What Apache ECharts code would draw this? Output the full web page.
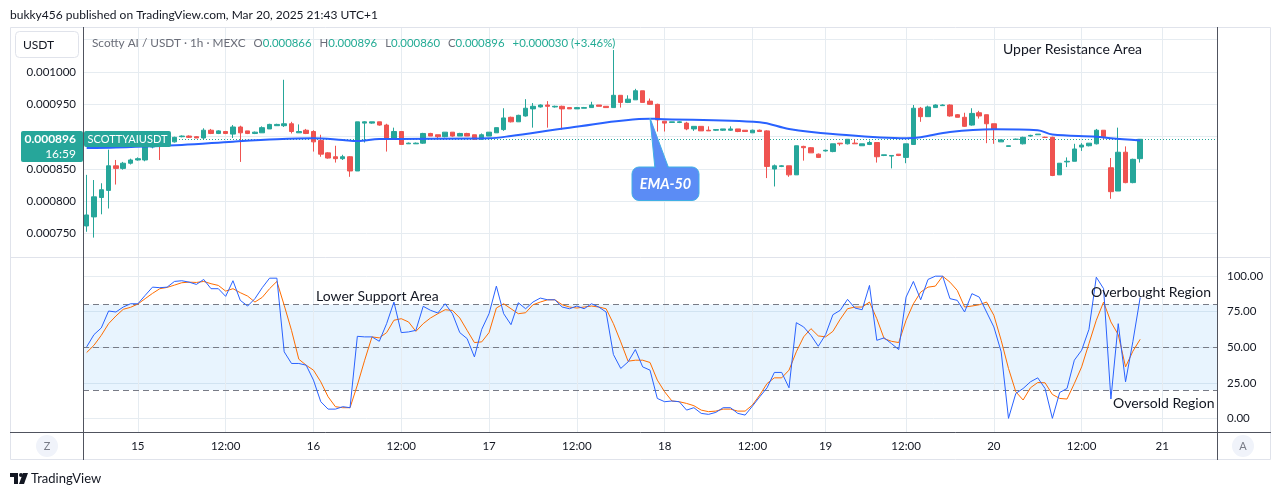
<!DOCTYPE html>
<html>
<head>
<meta charset="utf-8">
<script src="https://cdn.jsdelivr.net/npm/echarts@6/dist/echarts.min.js"></script>
<style>
  html, body { margin: 0; padding: 0; background: #fff; }
  #chart { width: 1281px; height: 496px; }
</style>
</head>
<body>
<div id="chart"></div>
<script>
// prices are in millionths of USDT (896 -> 0.000896)
// one candle per hour: [open, high, low, close]
const candles = [
  [762, 841, 753, 779], [776, 833, 744, 807], [806, 828, 780, 818], [817, 880, 789, 855],
  [855, 864, 826, 851], [851, 861, 849, 859], [859, 866, 857, 864], [864, 868, 863, 866],
  [864, 885, 862, 884], [884, 888, 882, 886], [890, 893, 864, 885], [886, 894, 885, 892],
  [892, 900, 891, 899], [900, 902, 899, 901], [901, 902, 898, 899], [900, 901, 898, 898],
  [898, 913, 895, 910], [910, 912, 904, 905], [905, 910, 904, 909], [908, 909, 904, 905],
  [904, 918, 898, 915], [915, 917, 861, 906], [909, 909, 904, 905], [905, 908, 904, 907],
  [906, 916, 906, 914], [912, 920, 912, 919], [917, 920, 917, 919], [917, 988, 915, 920],
  [920, 923, 905, 908], [906, 919, 906, 908], [910, 912, 904, 905], [908, 910, 877, 892],
  [894, 903, 869, 873], [875, 876, 866, 867], [869, 886, 860, 866], [866, 872, 864, 869],
  [869, 870, 838, 847], [847, 923, 847, 923], [921, 924, 891, 923], [921, 923, 920, 923],
  [923, 923, 917, 918], [918, 920, 877, 896], [896, 914, 895, 908], [908, 908, 888, 888],
  [889, 891, 889, 890], [889, 891, 889, 890], [890, 906, 889, 905], [905, 906, 901, 901],
  [903, 903, 898, 900], [900, 907, 899, 907], [907, 907, 900, 901], [901, 906, 901, 905],
  [905, 906, 901, 901], [903, 903, 895, 896], [896, 905, 895, 903], [901, 907, 901, 907],
  [906, 914, 906, 914], [911, 944, 909, 929], [930, 931, 922, 923], [923, 934, 923, 933],
  [932, 958, 931, 944], [943, 952, 914, 947], [946, 950, 945, 949], [949, 955, 914, 947],
  [946, 948, 945, 947], [947, 948, 911, 943], [945, 945, 943, 943], [943, 946, 943, 945],
  [944, 946, 944, 945], [945, 954, 945, 949], [949, 949, 947, 947], [947, 947, 945, 945],
  [945, 1034, 945, 964], [964, 964, 945, 953], [953, 964, 952, 958], [957, 974, 957, 971],
  [971, 971, 953, 953], [955, 959, 949, 950], [950, 951, 908, 926], [924, 924, 908, 921],
  [922, 923, 922, 923], [922, 924, 921, 923], [921, 923, 910, 912], [912, 916, 909, 916],
  [916, 916, 909, 909], [910, 916, 909, 909], [910, 911, 909, 911], [910, 912, 909, 912],
  [910, 916, 909, 912], [912, 912, 907, 908], [910, 910, 908, 908], [906, 911, 906, 910],
  [910, 911, 908, 908], [909, 910, 836, 854], [850, 857, 823, 855], [854, 856, 853, 855],
  [855, 855, 838, 841], [841, 886, 841, 886], [885, 886, 863, 883], [883, 884, 875, 875],
  [873, 874, 867, 868], [878, 880, 877, 879], [877, 889, 876, 889], [890, 890, 886, 889],
  [889, 896, 888, 896], [890, 896, 889, 889], [886, 889, 886, 889], [888, 894, 887, 891],
  [891, 891, 860, 869], [871, 872, 870, 872], [870, 871, 851, 871], [873, 873, 870, 871],
  [868, 889, 859, 889], [888, 949, 888, 944], [944, 946, 923, 931], [931, 948, 931, 946],
  [945, 950, 945, 949], [948, 950, 948, 949], [949, 950, 931, 932], [934, 935, 930, 930],
  [930, 937, 915, 916], [918, 944, 917, 936], [937, 940, 928, 932], [934, 934, 890, 920],
  [920, 920, 889, 911], [892, 896, 892, 895], [885, 886, 885, 886], [896, 897, 896, 896],
  [889, 900, 888, 899], [901, 903, 900, 902], [903, 904, 903, 904], [899, 900, 899, 899],
  [899, 900, 839, 840], [841, 859, 841, 859], [861, 868, 853, 862], [862, 889, 862, 881],
  [884, 890, 878, 887], [886, 890, 885, 890], [889, 912, 888, 910], [910, 910, 896, 900],
  [852, 867, 804, 815], [816, 914, 816, 876], [876, 885, 828, 829], [829, 866, 828, 865],
  [866, 896, 860, 896]
];

// EMA-50 read at a few bars: [bar index, value]
const ema50 = [
  [0, 882.5], [4, 883.3], [13, 887.2], [20, 892.3], [26, 896], [31, 897.5], [35, 894.9],
  [37, 893.4], [40, 896.4], [55, 897.5], [58, 901.1], [66, 913.9], [77, 927.8], [78, 927.4],
  [92, 922.3], [96, 911.9], [102, 904.2], [112, 897.5], [114, 899], [118, 907.3],
  [124, 911.4], [130, 909.9], [132, 903.4], [138, 900], [140, 897.5], [144, 894.1]
];

// stochastic %K and %D, one value per bar
const stochK = [
  50.3, 58.9, 63.6, 75.5, 74.8, 78.3, 80.6, 80.6, 86.5, 92.3, 91.9, 92.3, 96.3, 96.8, 95.8,
  94.2, 97.7, 91.2, 91.2, 85.8, 96.8, 83.0, 79.0, 84.2, 91.9, 98.6, 98.6, 46.8, 38.6, 38.6,
  37.4, 26.9, 11.7, 6.5, 6.5, 8.2, 7.5, 57.7, 57.3, 57.3, 54.2, 66.6, 81.8, 60.3, 60.8,
  61.9, 78.8, 76.0, 74.1, 80.6, 73.6, 60.3, 56.1, 43.2, 62.6, 73.6, 93.0, 73.6, 65.9, 81.3,
  77.1, 81.8, 84.6, 83.4, 83.4, 78.3, 77.1, 79.0, 77.1, 80.6, 78.3, 74.8, 44.9, 35.1, 39.7,
  48.4, 36.2, 33.9, 14.0, 11.7, 12.2, 11.7, 5.8, 7.5, 3.5, 2.8, 4.2, 7.5, 7.5, 3.5,
  2.3, 8.6, 15.2, 21.5, 32.3, 32.3, 21.5, 67.3, 64.3, 58.4, 50.7, 58.9, 72.9, 76.0, 83.7,
  77.6, 76.4, 93.5, 54.9, 56.6, 52.6, 48.4, 85.3, 96.3, 83.4, 97.7, 100, 100, 84.2, 83.0,
  74.8, 87.7, 85.3, 74.8, 64.3, 46.8, 0, 17.5, 21.0, 25.7, 28.5, 21.0, 0, 18.2, 21.0,
  40.9, 47.9, 62.6, 99.3, 91.2, 13.6, 66.6, 25.7, 54.0, 85.0
];
const stochD = [
  46.3, 51.4, 58.4, 66.6, 72.0, 76.7, 78.1, 80.4, 84.2, 87.9, 91.2, 92.1, 93.7, 95.4, 95.8,
  95.6, 96.3, 94.7, 93.5, 89.5, 91.2, 88.4, 86.0, 81.8, 85.1, 91.2, 96.3, 79.5, 61.9, 41.6,
  37.4, 33.9, 25.7, 15.2, 8.2, 7.5, 7.5, 23.4, 40.9, 57.3, 56.6, 60.3, 69.0, 70.1, 67.8,
  61.2, 66.6, 70.6, 73.6, 76.4, 75.9, 70.6, 61.9, 53.3, 53.8, 60.3, 77.6, 80.6, 77.1, 73.6,
  74.3, 79.9, 81.8, 83.4, 83.4, 79.9, 78.3, 77.6, 78.3, 79.0, 78.3, 77.1, 66.6, 53.8, 40.2,
  40.9, 40.9, 39.3, 26.9, 18.7, 12.2, 11.7, 10.5, 8.9, 5.8, 4.7, 5.1, 6.5, 6.5, 5.1,
  5.1, 9.4, 16.4, 24.5, 28.5, 28.5, 33.9, 46.8, 57.3, 63.1, 58.0, 57.3, 61.2, 69.7, 77.1,
  78.3, 78.3, 81.8, 70.1, 56.1, 54.2, 53.3, 69.0, 80.6, 88.8, 92.3, 93.0, 100, 95.8, 90.0,
  78.3, 79.0, 79.9, 81.8, 72.5, 54.9, 35.1, 18.7, 12.9, 21.5, 25.2, 25.0, 16.8, 14.0, 13.6,
  24.5, 36.2, 52.6, 69.0, 81.8, 67.8, 58.9, 36.2, 47.2, 55.6
];

// time labels at bar indexes (Mar 15 .. Mar 21)
const timeLabels = {
  7: '15', 19: '12:00', 31: '16', 43: '12:00', 55: '17', 67: '12:00', 79: '18',
  91: '12:00', 101: '19', 112: '12:00', 124: '20', 136: '12:00', 147: '21'
};
const priceTicks = [750, 800, 850, 900, 950, 1000, 1050];
const priceLabels = [750, 800, 850, 900, 950, 1000];
const stochTicks = [0, 25, 50, 75, 100];
const stochLevels = [20, 50, 80];

const BARS = 155; // visible slots, the last ones are empty
const cats = Array.from({ length: BARS }, (_, i) => String(i));
const gridIdx = Object.keys(timeLabels).map(Number);

const TXT = '#131722';
const GRID = '#e6ecf1';
const UP = '#26a69a';
const DOWN = '#ef5350';
const FONT = 'Lato, "Noto Sans", sans-serif';

const last = candles[candles.length - 1];
const fmt = v => (v / 1e6).toFixed(6);

const chart = echarts.init(document.getElementById('chart'), null, { renderer: 'canvas' });

const vGrid = {
  silent: true, symbol: 'none', z: 1, animation: false,
  label: { show: false },
  lineStyle: { color: GRID, type: 'solid', width: 1 },
  data: gridIdx.map(i => ({ xAxis: i }))
};

const option = {
  animation: false,
  backgroundColor: '#fff',
  textStyle: { fontFamily: FONT },
  grid: [
    { left: 83, right: 64, top: 27, height: 230 },
    { left: 83, right: 64, top: 257.7, height: 174.3 }
  ],
  xAxis: [
    {
      type: 'category', gridIndex: 0, data: cats, boundaryGap: true,
      axisLine: { show: false }, axisTick: { show: false },
      axisLabel: { show: false }, splitLine: { show: false }
    },
    {
      type: 'category', gridIndex: 1, data: cats, boundaryGap: true,
      axisLine: { show: false }, axisTick: { show: false },
      splitLine: { show: false },
      axisLabel: {
        color: TXT, fontSize: 11.5, margin: 8, fontFamily: FONT,
        interval: i => timeLabels[i] !== undefined,
        formatter: v => timeLabels[v] || ''
      }
    }
  ],
  yAxis: [
    {
      type: 'value', gridIndex: 0, position: 'left', min: 714, max: 1069.6,
      axisLine: { show: false },
      axisTick: { show: false, customValues: priceTicks },
      axisLabel: {
        customValues: priceLabels, formatter: fmt,
        color: TXT, fontSize: 11.5, margin: 7, fontFamily: FONT
      },
      splitLine: { show: true, lineStyle: { color: GRID } }
    },
    {
      type: 'value', gridIndex: 1, position: 'right', min: -9.6, max: 113,
      axisLine: { show: false },
      axisTick: { show: false, customValues: stochTicks },
      axisLabel: {
        customValues: stochTicks, formatter: v => v.toFixed(2),
        color: TXT, fontSize: 11.5, margin: 10, fontFamily: FONT
      },
      splitLine: { show: true, lineStyle: { color: GRID } }
    }
  ],
  series: [
    {
      type: 'candlestick', name: 'SCOTTYAIUSDT', xAxisIndex: 0, yAxisIndex: 0,
      barWidth: 5, z: 3,
      data: candles.map(c => [c[0], c[3], c[2], c[1]]),
      itemStyle: { color: UP, color0: DOWN, borderColor: UP, borderColor0: DOWN, borderWidth: 1 },
      markLine: {
        silent: true, symbol: 'none', z: 2, animation: false,
        label: { show: false },
        lineStyle: { color: UP, type: [1, 2], width: 1 },
        data: [{ yAxis: last[3] }]
      }
    },
    {
      type: 'line', name: 'EMA-50', xAxisIndex: 0, yAxisIndex: 0, z: 4,
      data: ema50, smooth: 0.35, symbol: 'none',
      lineStyle: { color: '#2962ff', width: 2 },
      markLine: vGrid
    },
    {
      type: 'line', name: '%K', xAxisIndex: 1, yAxisIndex: 1, z: 4,
      data: stochK, symbol: 'none',
      lineStyle: { color: '#2962ff', width: 1 },
      markLine: vGrid,
      markArea: {
        silent: true, z: 1,
        itemStyle: { color: 'rgba(33,150,243,0.1)' },
        data: [[{ yAxis: stochLevels[0] }, { yAxis: stochLevels[2] }]]
      }
    },
    {
      type: 'line', name: '%D', xAxisIndex: 1, yAxisIndex: 1, z: 3,
      data: stochD, symbol: 'none',
      lineStyle: { color: '#ff6d00', width: 1 },
      markLine: {
        silent: true, symbol: 'none', z: 2, animation: false,
        label: { show: false },
        lineStyle: { color: '#787b86', type: [6, 4], width: 1 },
        data: stochLevels.map(v => ({ yAxis: v }))
      }
    }
  ],
  graphic: [
    // frame and separators
    { type: 'rect', z: 50, shape: { x: 10.5, y: 27.5, width: 1260, height: 432 },
      style: { fill: 'none', stroke: '#e0e3eb', lineWidth: 1 } },
    { type: 'line', z: 50, shape: { x1: 10, y1: 257.5, x2: 1271, y2: 257.5 },
      style: { stroke: '#e0e3eb', lineWidth: 1 } },
    { type: 'line', z: 51, shape: { x1: 83.5, y1: 27, x2: 83.5, y2: 460 },
      style: { stroke: '#50535e', lineWidth: 1 } },
    { type: 'line', z: 51, shape: { x1: 1217.5, y1: 27, x2: 1217.5, y2: 460 },
      style: { stroke: '#50535e', lineWidth: 1 } },
    { type: 'line', z: 51, shape: { x1: 10, y1: 432.5, x2: 1271, y2: 432.5 },
      style: { stroke: '#50535e', lineWidth: 1 } },

    // header
    { type: 'text', z: 60, style: { x: 10, y: 15, verticalAlign: 'middle',
      text: 'bukky456 published on TradingView.com, Mar 20, 2025 21:43 UTC+1',
      font: '12px ' + FONT, fill: TXT } },
    { type: 'rect', z: 60, shape: { x: 15.5, y: 31.5, width: 63, height: 26, r: 4 },
      style: { fill: '#fff', stroke: '#e0e3eb', lineWidth: 1 } },
    { type: 'text', z: 61, style: { x: 23, y: 45, verticalAlign: 'middle',
      text: 'USDT', font: '12px ' + FONT, fill: TXT } },
    { type: 'text', z: 60, style: { x: 92, y: 43, verticalAlign: 'middle',
      text: '{g|Scotty AI / USDT · 1h · MEXC}{s| }{l|O}{v|' + fmt(last[0]) + '}{s| }{l|H}{v|' + fmt(last[1]) +
        '}{s| }{l|L}{v|' + fmt(last[2]) + '}{s| }{l|C}{v|' + fmt(last[3]) + '}{s| }{v|+0.000030 (+3.46%)}',
      rich: {
        g: { fill: '#6a6d78', font: '11.8px ' + FONT },
        s: { width: 8, font: '11px ' + FONT },
        l: { fill: '#6a6d78', font: '11.4px ' + FONT },
        v: { fill: '#22ab94', font: '11.4px ' + FONT }
      } } },

    // annotations
    { type: 'text', z: 60, style: { x: 1003, y: 49, verticalAlign: 'middle',
      text: 'Upper Resistance Area', font: '14px ' + FONT, fill: TXT } },
    { type: 'text', z: 60, style: { x: 316, y: 296, verticalAlign: 'middle',
      text: 'Lower Support Area', font: '14px ' + FONT, fill: TXT } },
    { type: 'text', z: 60, style: { x: 1091, y: 292, verticalAlign: 'middle',
      text: 'Overbought Region', font: '14px ' + FONT, fill: TXT } },
    { type: 'text', z: 60, style: { x: 1113, y: 403, verticalAlign: 'middle',
      text: 'Oversold Region', font: '14px ' + FONT, fill: TXT } },

    // EMA-50 callout
    { type: 'polygon', z: 60, shape: { points: [[650, 118], [655, 169], [669, 169]] },
      style: { fill: '#5b8cf5', stroke: '#41b0e6', lineWidth: 1 } },
    { type: 'rect', z: 60, shape: { x: 632, y: 167, width: 67, height: 33.5, r: 7 },
      style: { fill: '#5b8cf5', stroke: '#41b0e6', lineWidth: 1 } },
    { type: 'polygon', z: 61, shape: { points: [[651, 121], [656, 168.5], [667.5, 168.5]] },
      style: { fill: '#5b8cf5' } },
    { type: 'text', z: 62, style: { x: 665.5, y: 184, align: 'center', verticalAlign: 'middle',
      text: 'EMA-50', font: 'italic bold 14.5px ' + FONT, fill: '#fff' } },

    // last price labels
    { type: 'rect', z: 60, shape: { x: 21, y: 131, width: 62, height: 31, r: 2 },
      style: { fill: UP } },
    { type: 'text', z: 61, style: { x: 76, y: 139.5, align: 'right', verticalAlign: 'middle',
      text: fmt(last[3]), font: 'bold 12px ' + FONT, fill: '#fff' } },
    { type: 'text', z: 61, style: { x: 76, y: 154.5, align: 'right', verticalAlign: 'middle',
      text: '16:59', font: '12px ' + FONT, fill: '#fff' } },
    { type: 'rect', z: 60, shape: { x: 84, y: 131, width: 87, height: 16, r: 2 },
      style: { fill: UP } },
    { type: 'text', z: 61, style: { x: 127.5, y: 139.5, align: 'center', verticalAlign: 'middle',
      text: 'SCOTTYAIUSDT', font: '11px ' + FONT, fill: '#fff' } },

    // bottom buttons
    { type: 'circle', z: 60, shape: { cx: 47, cy: 446, r: 11 }, style: { fill: '#f0f3fa' } },
    { type: 'text', z: 61, style: { x: 47, y: 446, align: 'center', verticalAlign: 'middle',
      text: 'Z', font: '11px ' + FONT, fill: '#787b86' } },
    { type: 'circle', z: 60, shape: { cx: 1243, cy: 446, r: 11 }, style: { fill: '#f0f3fa' } },
    { type: 'text', z: 61, style: { x: 1243, y: 446, align: 'center', verticalAlign: 'middle',
      text: 'A', font: '11px ' + FONT, fill: '#787b86' } },

    // TradingView logo
    { type: 'polygon', z: 60, shape: { points: [[10, 473], [18, 473], [18, 484], [14, 484], [14, 477], [10, 477]] },
      style: { fill: TXT } },
    { type: 'circle', z: 60, shape: { cx: 21, cy: 475, r: 2 }, style: { fill: TXT } },
    { type: 'polygon', z: 60, shape: { points: [[23, 473], [28, 473], [24, 484], [19, 484]] },
      style: { fill: TXT } },
    { type: 'text', z: 60, style: { x: 31, y: 478.5, verticalAlign: 'middle',
      text: 'TradingView', font: '13px ' + FONT, fill: TXT } }
  ]
};

chart.setOption(option);
</script>
</body>
</html>
